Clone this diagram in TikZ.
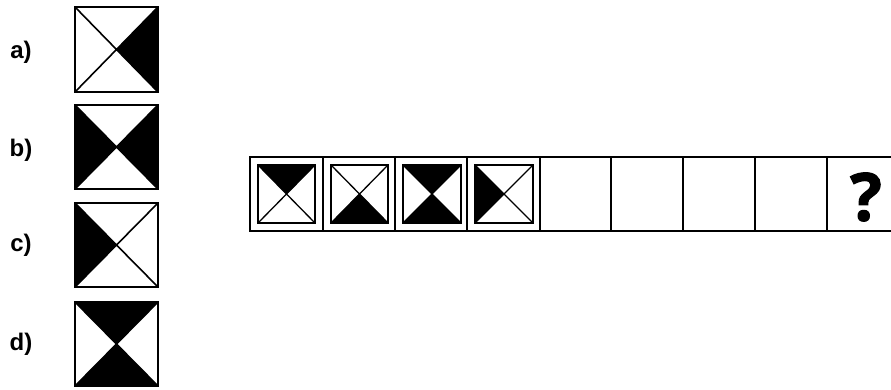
\documentclass[tikz,border=0pt]{standalone}
\usepackage{fontspec}
\setmainfont{Liberation Sans}
\newfontfamily\qfont[BoldFeatures={FakeBold=1.8}]{Open Sans}
\newcommand\mytile[9]{% x1 y1 x2 y2 T R B L linewidth
  \ifnum#5=1 \fill (#1,#2) -- (#3,#2) -- ({(#1+#3)/2},{(#2+#4)/2}) -- cycle;\fi
  \ifnum#6=1 \fill (#3,#2) -- (#3,#4) -- ({(#1+#3)/2},{(#2+#4)/2}) -- cycle;\fi
  \ifnum#7=1 \fill (#1,#4) -- (#3,#4) -- ({(#1+#3)/2},{(#2+#4)/2}) -- cycle;\fi
  \ifnum#8=1 \fill (#1,#2) -- (#1,#4) -- ({(#1+#3)/2},{(#2+#4)/2}) -- cycle;\fi
  \draw[line width=#9] (#1,#2) -- (#3,#4) (#1,#4) -- (#3,#2);
  \draw[line width=2pt] (#1,#2) rectangle (#3,#4);
}
\tikzset{lbl/.style={font=\bfseries\fontsize{24}{24}\selectfont, inner sep=0pt}}
\begin{document}
\begin{tikzpicture}[x=1pt,y=-1pt]
\useasboundingbox (0,0) rectangle (891,389);
\fill[white] (0,0) rectangle (891,389);
\begin{scope}
\clip (0,0) rectangle (891,389);
% options
\node[lbl] (la) at (21,52) {a)};
\node[lbl] (lb) at (21,150) {b)};
\node[lbl] (lc) at (21,245) {c)};
\node[lbl] (ld) at (21,344) {d)};
\mytile{75}{7}{158}{92}{0}{1}{0}{0}{1.6pt}
\mytile{75}{105}{158}{189}{0}{1}{0}{1}{1.6pt}
\mytile{75}{203}{158}{287}{0}{0}{0}{1}{1.6pt}
\mytile{75}{302}{158}{386}{1}{0}{1}{0}{1.6pt}
% strip
\draw[line width=2pt] (249.5,157) rectangle (899,231);
\foreach \x in {323,395,467,540,611,683,755,827}
  \draw[line width=2pt] (\x,157) -- (\x,231);
\mytile{258}{165}{315}{223}{1}{0}{0}{0}{1.3pt}
\mytile{331}{165}{388}{223}{0}{0}{1}{0}{1.3pt}
\mytile{403}{165}{461}{223}{1}{0}{1}{0}{1.3pt}
\mytile{475}{165}{533}{223}{0}{0}{0}{1}{1.3pt}
\node[inner sep=0pt, font=\qfont\bfseries\fontsize{66}{66}\selectfont] (q) at (866,197) {?};
\end{scope}
\end{tikzpicture}
\end{document}
